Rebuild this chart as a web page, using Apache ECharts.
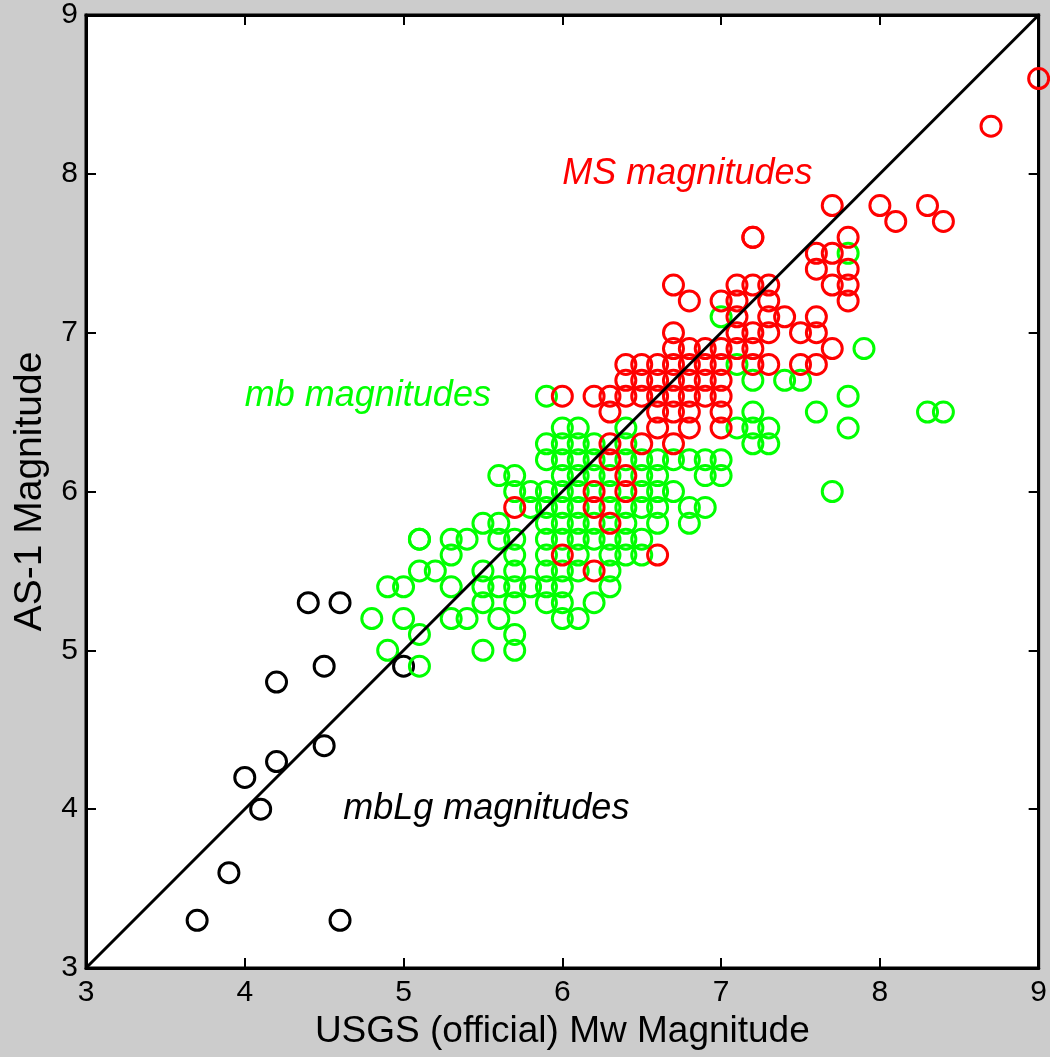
<!DOCTYPE html>
<html>
<head>
<meta charset="utf-8">
<script src="https://cdn.jsdelivr.net/npm/echarts@6/dist/echarts.min.js"></script>
<style>
html,body{margin:0;padding:0;background:#cccccc;}
#chart{width:1050px;height:1057px;}
</style>
</head>
<body>
<div id="chart"></div>
<script>
// ---- data (USGS Mw, AS-1 magnitude) ----
const mbLgPoints = [[3.7,3.3],[3.9,3.6],[4.0,4.2],[4.1,4.0],[4.2,4.8],[4.2,4.3],[4.4,5.3],[4.5,4.9],[4.5,4.4],[4.6,5.3],[4.6,3.3],[5.0,4.9]];

const mbPoints = [
[7.8,7.5],[7.0,7.1],[7.9,6.9],[7.1,6.8],[7.2,6.7],[7.4,6.7],[7.5,6.7],[5.9,6.6],[7.8,6.6],[7.2,6.5],[7.6,6.5],[8.3,6.5],[8.4,6.5],
[6.0,6.4],[6.1,6.4],[6.4,6.4],[7.1,6.4],[7.2,6.4],[7.3,6.4],[7.8,6.4],
[5.9,6.3],[6.0,6.3],[6.1,6.3],[6.2,6.3],[6.4,6.3],[7.2,6.3],[7.3,6.3],
[5.9,6.2],[6.0,6.2],[6.1,6.2],[6.2,6.2],[6.4,6.2],[6.5,6.2],[6.6,6.2],[6.7,6.2],[6.8,6.2],[6.9,6.2],[7.0,6.2],
[5.6,6.1],[5.7,6.1],[6.0,6.1],[6.1,6.1],[6.2,6.1],[6.3,6.1],[6.5,6.1],[6.6,6.1],[6.9,6.1],[7.0,6.1],
[5.7,6.0],[5.8,6.0],[5.9,6.0],[6.0,6.0],[6.1,6.0],[6.3,6.0],[6.5,6.0],[6.6,6.0],[6.7,6.0],[7.7,6.0],
[5.8,5.9],[5.9,5.9],[6.0,5.9],[6.1,5.9],[6.3,5.9],[6.4,5.9],[6.5,5.9],[6.6,5.9],[6.8,5.9],[6.9,5.9],
[5.5,5.8],[5.6,5.8],[5.9,5.8],[6.0,5.8],[6.1,5.8],[6.2,5.8],[6.4,5.8],[6.6,5.8],[6.8,5.8],
[5.1,5.7],[5.1,5.7],[5.3,5.7],[5.4,5.7],[5.6,5.7],[5.7,5.7],[5.9,5.7],[6.0,5.7],[6.1,5.7],[6.2,5.7],[6.3,5.7],[6.4,5.7],[6.5,5.7],
[5.3,5.6],[5.7,5.6],[5.9,5.6],[6.1,5.6],[6.3,5.6],[6.4,5.6],[6.5,5.6],
[5.1,5.5],[5.2,5.5],[5.5,5.5],[5.7,5.5],[5.9,5.5],[6.0,5.5],[6.1,5.5],[6.3,5.5],
[4.9,5.4],[5.0,5.4],[5.3,5.4],[5.5,5.4],[5.6,5.4],[5.7,5.4],[5.8,5.4],[5.9,5.4],[6.0,5.4],[6.3,5.4],
[5.5,5.3],[5.7,5.3],[5.9,5.3],[6.0,5.3],[6.2,5.3],
[4.8,5.2],[5.0,5.2],[5.3,5.2],[5.4,5.2],[5.6,5.2],[6.0,5.2],[6.1,5.2],
[5.1,5.1],[5.7,5.1],
[4.9,5.0],[5.5,5.0],[5.7,5.0],
[5.1,4.9]
];

const msPoints = [
[9.0,8.6],[8.7,8.3],[7.7,7.8],[8.0,7.8],[8.3,7.8],[8.1,7.7],[8.4,7.7],[7.2,7.6],[7.2,7.6],[7.8,7.6],
[7.6,7.5],[7.7,7.5],[7.6,7.4],[7.8,7.4],[7.7,7.3],[7.8,7.3],[7.8,7.2],
[6.7,7.3],[6.8,7.2],[7.1,7.3],[7.2,7.3],[7.3,7.3],[7.0,7.2],[7.1,7.2],[7.3,7.2],
[7.1,7.1],[7.3,7.1],[7.4,7.1],[7.6,7.1],
[6.7,7.0],[7.1,7.0],[7.2,7.0],[7.3,7.0],[7.5,7.0],[7.6,7.0],[7.7,6.9],
[6.7,6.9],[6.8,6.9],[6.9,6.9],[7.0,6.9],[7.1,6.9],[7.2,6.9],
[6.4,6.8],[6.5,6.8],[6.6,6.8],[6.7,6.8],[6.8,6.8],[6.9,6.8],[7.0,6.8],[7.2,6.8],[7.3,6.8],[7.5,6.8],[7.6,6.8],
[6.4,6.7],[6.5,6.7],[6.6,6.7],[6.7,6.7],[6.8,6.7],[6.9,6.7],[7.0,6.7],
[6.0,6.6],[6.2,6.6],[6.3,6.6],[6.4,6.6],[6.5,6.6],[6.6,6.6],[6.7,6.6],[6.8,6.6],[6.9,6.6],[7.0,6.6],
[6.3,6.5],[6.6,6.5],[6.7,6.5],[6.8,6.5],[7.0,6.5],
[6.6,6.4],[6.8,6.4],[7.0,6.4],
[6.3,6.3],[6.5,6.3],[6.7,6.3],
[6.3,6.2],[6.4,6.1],[6.2,6.0],[6.4,6.0],
[5.7,5.9],[6.2,5.9],[6.3,5.8],[6.0,5.6],[6.6,5.6],[6.2,5.5]
];

const oneToOneLine = [[3,3],[9,9]];
const axisTicks = [3,4,5,6,7,8,9];
const annotations = [
  {text:'MS magnitudes', pos:[6.0,8.0], color:'#ff0000'},
  {text:'mb magnitudes', pos:[4.0,6.6], color:'#00ff00'},
  {text:'mbLg magnitudes', pos:[4.62,4.0], color:'#000000'}
];

const FONT = 'Liberation Sans, Arial, Helvetica, sans-serif';
const chart = echarts.init(document.getElementById('chart'), null, {renderer:'canvas'});

function axisBase(show){
  return {
    type:'value', min:axisTicks[0], max:axisTicks[axisTicks.length-1], interval:1,
    axisLine:{show:true, onZero:false, lineStyle:{color:'#000', width:3}},
    axisTick:{show:true, inside:true, length:10, lineStyle:{color:'#000', width:2}},
    axisLabel:{show:show, color:'#000', fontSize:30, fontFamily:FONT},
    splitLine:{show:false}
  };
}
function circles(name, data, color){
  return {
    name, type:'scatter', data, symbol:'circle', symbolSize:20,
    itemStyle:{color:'rgba(0,0,0,0)', borderColor:color, borderWidth:3, opacity:1},
    silent:true
  };
}

const option = {
  backgroundColor:'#cccccc',
  animation:false,
  grid:{left:86, right:10, top:15, bottom:89, show:true, backgroundColor:'#ffffff', borderColor:'#000', borderWidth:3, containLabel:false},
  xAxis:[
    Object.assign(axisBase(true), {position:'bottom', name:'USGS (official) Mw Magnitude', nameLocation:'middle', nameGap:38,
      nameTextStyle:{color:'#000', fontSize:37, fontFamily:FONT},
      axisLabel:{show:true, color:'#000', fontSize:30, fontFamily:FONT, margin:10}}),
    Object.assign(axisBase(false), {position:'top'})
  ],
  yAxis:[
    Object.assign(axisBase(true), {position:'left', name:'AS-1 Magnitude', nameLocation:'middle', nameGap:36,
      nameTextStyle:{color:'#000', fontSize:39, fontFamily:FONT},
      axisLabel:{show:true, color:'#000', fontSize:30, fontFamily:FONT, margin:8}}),
    Object.assign(axisBase(false), {position:'right'})
  ],
  series:[
    circles('mbLg', mbLgPoints, '#000000'),
    circles('mb', mbPoints, '#00ff00'),
    circles('MS', msPoints, '#ff0000'),
    {type:'line', data:oneToOneLine, symbol:'none', lineStyle:{color:'#000', width:3}, z:5, silent:true},
    {type:'scatter', symbolSize:0, z:6, silent:true, itemStyle:{opacity:1},
      data:annotations.map(a=>({value:a.pos, label:{color:a.color}})),
      label:{show:true, position:'right', distance:0, fontSize:36, fontStyle:'italic', fontFamily:FONT,
        formatter:(p)=>annotations[p.dataIndex].text}}
  ]
};
chart.setOption(option);
</script>
</body>
</html>
